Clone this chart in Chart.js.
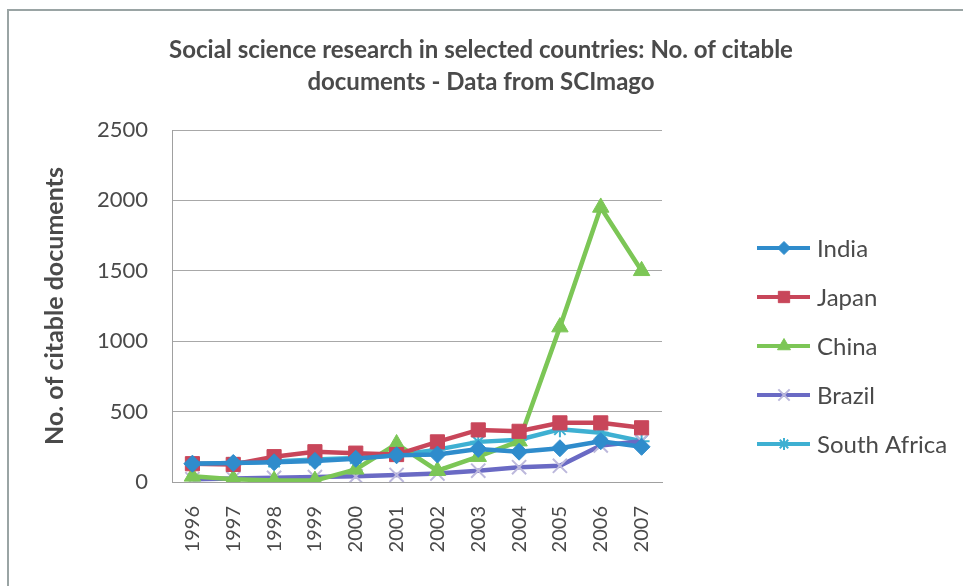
<!DOCTYPE html>
<html>
<head>
<meta charset="utf-8">
<script src="https://cdn.jsdelivr.net/npm/chart.js@4.4.1/dist/chart.umd.min.js"></script>
<style>
  html, body { margin: 0; padding: 0; background: #fff; }
  #wrap { position: relative; width: 963px; height: 586px; }
</style>
</head>
<body>
<div id="wrap"><canvas id="chart"></canvas></div>
<script>
// data
var years = ['1996', '1997', '1998', '1999', '2000', '2001', '2002', '2003', '2004', '2005', '2006', '2007'];
var india = [130, 135, 140, 150, 165, 190, 195, 235, 215, 240, 290, 250];
var japan = [130, 125, 180, 215, 205, 195, 285, 370, 360, 420, 420, 385];
var china = [40, 20, 10, 10, 90, 270, 80, 180, 290, 1100, 1950, 1500];
var brazil = [20, 25, 30, 35, 40, 50, 60, 80, 105, 115, 260, 290];
var southAfrica = [130, 135, 145, 160, 170, 190, 230, 285, 300, 375, 350, 290];
var yTicks = [0, 500, 1000, 1500, 2000, 2500];
var titleLines = ['Social science research in selected countries: No. of citable', 'documents - Data from SCImago'];

var textColor = '#4a4a4a';
var fontFamily = 'Lato, "Open Sans", sans-serif';

function series(label, data, color, style, radius) {
    return {
        label: label,
        data: data,
        borderColor: color,
        backgroundColor: color,
        borderWidth: 4.5,
        pointStyle: style,
        pointRadius: radius,
        pointBorderWidth: style === 'crossRot' || style === 'star' ? 2 : 1,
        pointBorderColor: color,
        pointBackgroundColor: color,
        tension: 0
    };
}

var datasets = [
    series('India', india, '#2f8ccc', 'rectRot', 8.5),
    series('Japan', japan, '#c8465a', 'rect', 10),
    series('China', china, '#7cc656', 'triangle', 9.5),
    series('Brazil', brazil, '#6a6ac4', 'crossRot', 10),
    series('South Africa', southAfrica, '#3eb0d2', 'star', 8)
];
// brazil markers are lighter than its line
datasets[3].pointBorderColor = '#bcb8dc';

var frameTitleLegend = {
    id: 'frameTitleLegend',
    afterDraw: function (chart) {
        var ctx = chart.ctx;
        ctx.save();
        // outer frame (left and top edges only, like the scan)
        ctx.strokeStyle = '#9aa4a4';
        ctx.lineWidth = 2;
        ctx.beginPath();
        ctx.moveTo(8, 586);
        ctx.lineTo(8, 10);
        ctx.lineTo(963, 10);
        ctx.stroke();

        // title, centred on the whole frame
        ctx.fillStyle = textColor;
        ctx.font = 'bold 24px ' + fontFamily;
        ctx.textAlign = 'center';
        ctx.textBaseline = 'middle';
        titleLines.forEach(function (line, i) {
            ctx.fillText(line, 481, 50 + i * 32);
        });

        // legend: line with marker, then label
        var x0 = chart.chartArea.right + 95;
        var y0 = 248;
        var step = 49;
        chart.data.datasets.forEach(function (ds, i) {
            var y = y0 + i * step;
            ctx.strokeStyle = ds.borderColor;
            ctx.lineWidth = 4;
            ctx.beginPath();
            ctx.moveTo(x0, y);
            ctx.lineTo(x0 + 53, y);
            ctx.stroke();
            ctx.fillStyle = ds.pointBackgroundColor;
            ctx.strokeStyle = ds.pointBorderColor;
            ctx.lineWidth = ds.pointBorderWidth;
            Chart.helpers.drawPoint(ctx, {
                pointStyle: ds.pointStyle,
                radius: ds.pointRadius - 2,
                borderWidth: ds.pointBorderWidth
            }, x0 + 27, y);
            ctx.fillStyle = textColor;
            ctx.font = '24px ' + fontFamily;
            ctx.textAlign = 'left';
            ctx.textBaseline = 'middle';
            ctx.fillText(ds.label, x0 + 60, y + 1);
        });
        ctx.restore();
    }
};

new Chart(document.getElementById('chart'), {
    type: 'line',
    data: { labels: years, datasets: datasets },
    options: {
        responsive: true,
        maintainAspectRatio: false,
        animation: false,
        layout: { padding: { left: 0, right: 301, top: 130, bottom: 0 } },
        plugins: {
            legend: { display: false },
            tooltip: { enabled: false },
            title: { display: false }
        },
        scales: {
            x: {
                offset: true,
                grid: { display: false, drawTicks: false },
                border: { display: true, color: '#a0a0a0', width: 1 },
                ticks: {
                    color: textColor,
                    font: { family: fontFamily, size: 20 },
                    minRotation: 90,
                    maxRotation: 90,
                    padding: 24
                },
                afterFit: function (scale) { scale.height = 104; }
            },
            y: {
                min: 0,
                max: 2500,
                afterBuildTicks: function (scale) {
                    scale.ticks = yTicks.map(function (v) { return { value: v }; });
                },
                grid: { color: '#a8a8a8', lineWidth: 1, drawTicks: false },
                border: { display: true, color: '#a0a0a0', width: 1 },
                ticks: {
                    color: textColor,
                    font: { family: fontFamily, size: 22 },
                    padding: 24,
                    callback: function (v) { return String(v); }
                },
                title: {
                    display: true,
                    text: 'No. of citable documents',
                    color: textColor,
                    font: { family: fontFamily, size: 25, weight: 'bold' },
                    padding: { top: 40, bottom: 0 }
                },
                afterFit: function (scale) { scale.width = 172; }
            }
        }
    },
    plugins: [frameTitleLegend]
});
</script>
</body>
</html>
